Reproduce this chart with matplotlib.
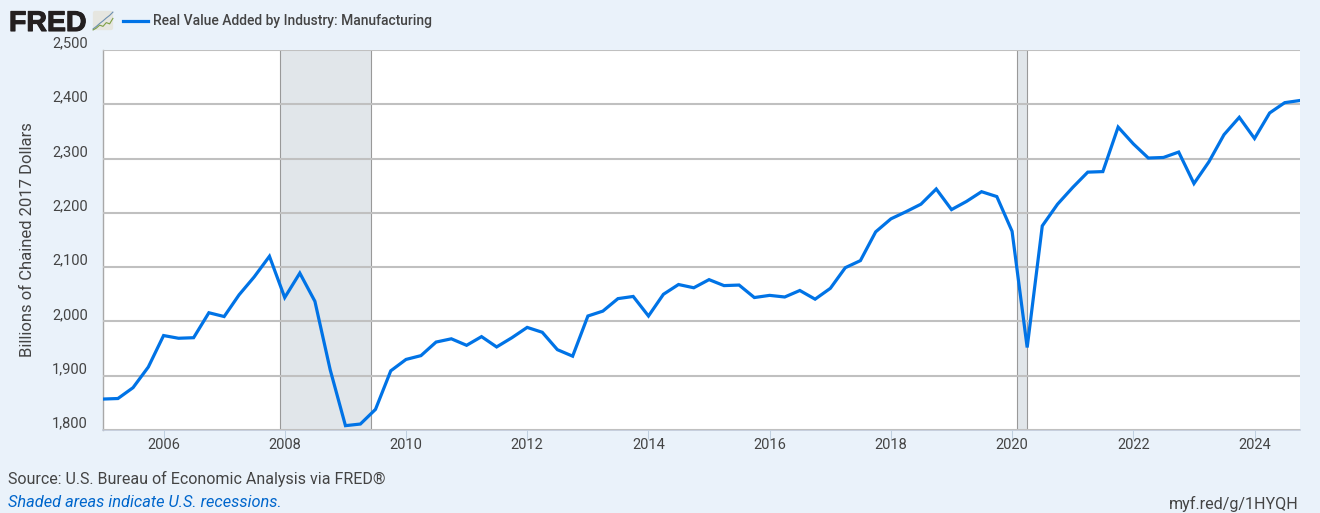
import matplotlib
matplotlib.use("Agg")
import matplotlib.dates as mdates
import matplotlib.patheffects as pe
import matplotlib.pyplot as plt
import numpy as np
import pandas as pd
from matplotlib.patches import FancyBboxPatch
from matplotlib.transforms import ScaledTranslation

plt.rcParams["font.family"] = ["Roboto", "DejaVu Sans"]

quarters = pd.date_range("2005-01-01", periods=80, freq="QS")
manufacturing = [
    1857, 1858, 1878, 1916, 1974, 1969, 1970, 2016, 2009, 2049, 2082, 2120,
    2044, 2089, 2037, 1911, 1808, 1811, 1838, 1909, 1930, 1937, 1962, 1968,
    1956, 1972, 1953, 1970, 1989, 1980, 1948, 1936, 2010, 2019, 2042, 2046,
    2010, 2050, 2068, 2062, 2077, 2066, 2067, 2044, 2048, 2045, 2057, 2041,
    2061, 2099, 2112, 2165, 2189, 2202, 2216, 2244, 2206, 2221, 2239, 2230,
    2166, 1952, 2176, 2216, 2247, 2275, 2276, 2358, 2327, 2301, 2302, 2312,
    2254, 2294, 2344, 2376, 2337, 2384, 2403, 2407,
]
recessions = [("2007-12-01", "2009-06-01"), ("2020-02-01", "2020-04-01")]
y_ticks = [1800, 1900, 2000, 2100, 2200, 2300, 2400, 2500]
x_years = list(range(2006, 2025, 2))
logo_blue = [0.10, 0.22, 0.36, 0.48, 0.62, 0.74, 0.90]
logo_green = [0.05, 0.14, 0.28, 0.22, 0.40, 0.34, 0.60]

BG = "#EAF2FA"
GRID = "#C0C0C0"
TEXT = "#444444"
W, H = 1320, 513


def fx(px):
    return px / W


def fy(px):
    return 1 - px / H


fig = plt.figure(figsize=(W / 100, H / 100), dpi=100, facecolor=BG)
ax = fig.add_axes([fx(103), fy(430), fx(1300) - fx(103), fy(50) - fy(430)])
ax.set_facecolor("white")

for start, end in recessions:
    s, e = pd.Timestamp(start), pd.Timestamp(end)
    ax.axvspan(s, e, facecolor="#E1E6EA", edgecolor="none", zorder=1)
    ax.axvline(s, color="#999999", lw=0.8, zorder=1.5)
    ax.axvline(e, color="#999999", lw=0.8, zorder=1.5)

ax.plot(quarters, manufacturing, color="#0073E6", lw=2.3, zorder=3,
        solid_joinstyle="miter")

ax.set_xlim(pd.Timestamp("2005-01-01"), pd.Timestamp("2024-10-01"))
ax.set_ylim(1800, 2500)

ax.set_yticks(y_ticks)
ax.set_yticklabels([f"{v:,}" for v in y_ticks])
ax.grid(axis="y", color=GRID, lw=1.5, zorder=2)
ax.set_axisbelow(False)
ax.tick_params(axis="y", length=0, pad=11, labelsize=10.5, labelcolor=TEXT)
shift = ScaledTranslation(0, 0.08, fig.dpi_scale_trans)
for label in ax.get_yticklabels():
    label.set_transform(label.get_transform() + shift)

ax.xaxis.set_major_locator(mdates.DateLocator())
ax.set_xticks([pd.Timestamp(f"{y}-01-01") for y in x_years])
ax.set_xticklabels([str(y) for y in x_years])
ax.tick_params(axis="x", length=6.5, width=0.75, color="#C0D0E0", pad=-0.5,
               labelsize=10.5, labelcolor=TEXT)

for side in ["top", "right"]:
    ax.spines[side].set_visible(False)
ax.spines["left"].set_color("#A8A8A8")
ax.spines["left"].set_linewidth(1)
ax.spines["bottom"].set_color("#C0C8D8")
ax.spines["bottom"].set_linewidth(1.2)

fig.text(fx(28), fy(240), "Billions of Chained 2017 Dollars", rotation=90,
         ha="center", va="center", fontsize=12, color=TEXT)

# header
fig.text(fx(9), fy(31), "FRED", family="Liberation Sans", fontsize=20.5, fontweight="bold",
         color="#231F20", ha="left", va="baseline",
         path_effects=[pe.withStroke(linewidth=0.8, foreground="#231F20")])
icon = fig.add_axes([fx(92), fy(31), fx(22), fy(10) - fy(31)])
icon.set_xlim(0, 1)
icon.set_ylim(0, 1)
icon.axis("off")
icon.add_patch(FancyBboxPatch((0.04, 0.04), 0.92, 0.92, boxstyle="round,pad=0,rounding_size=0.1",
                              facecolor="#E6E6E0", edgecolor="none"))
icon_x = np.linspace(0.05, 0.95, len(logo_blue))
icon.plot(icon_x, logo_blue, color="#6C8FB0", lw=0.8)
icon.plot(icon_x, logo_green, color="#7E9F45", lw=0.8)

fig.add_artist(plt.Line2D([fx(123), fx(148)], [fy(21), fy(21)], color="#0073E6", lw=2.3))
fig.text(fx(153), fy(21), "Real Value Added by Industry: Manufacturing",
         fontsize=10, fontweight="medium", color=TEXT, ha="left", va="center")

# footer
fig.text(fx(8), fy(484), "Source: U.S. Bureau of Economic Analysis via FRED®",
         fontsize=11.5, color=TEXT, ha="left", va="baseline")
fig.text(fx(8), fy(507), "Shaded areas indicate U.S. recessions.", fontsize=11.75,
         fontstyle="italic", color="#0066CC", ha="left", va="baseline")
fig.text(fx(1299), fy(509), "myf.red/g/1HYQH", fontsize=11.6, color=TEXT,
         ha="right", va="baseline")

fig.savefig("out.png", dpi=100, facecolor=BG)
